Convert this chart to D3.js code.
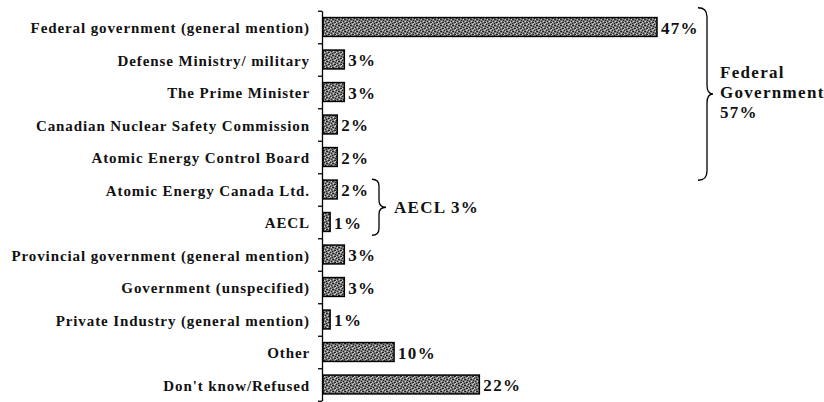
<!DOCTYPE html>
<html lang="en">
<head>
<meta charset="UTF-8">
<script src="https://d3js.org/d3.v7.min.js"></script>
<style>
  body { margin: 0; background: #fff; }
  svg text { font-family: "Liberation Serif", "Times New Roman", serif; fill: #111; }
  .label { font-size: 15px; font-weight: bold; letter-spacing: 0.9px; }
  .value { font-size: 17px; font-weight: bold; letter-spacing: 1.3px; }
  .axis path, .axis line { stroke: #000; stroke-width: 1.3; }
</style>
</head>
<body>
<div id="chart"></div>
<script>
var categories = [
  "Federal government (general mention)",
  "Defense Ministry/ military",
  "The Prime Minister",
  "Canadian Nuclear Safety Commission",
  "Atomic Energy Control Board",
  "Atomic Energy Canada Ltd.",
  "AECL",
  "Provincial government (general mention)",
  "Government (unspecified)",
  "Private Industry (general mention)",
  "Other",
  "Don't know/Refused"
];
var values = [47, 3, 3, 2, 2, 2, 1, 3, 3, 1, 10, 22];

// group brackets: first/last category index and the label lines
var groupFederal = { from: 0, to: 4, lines: ["Federal", "Government", "57%"] };
var groupAecl = { from: 5, to: 6, lines: ["AECL 3%"] };

var width = 824, height = 402;
var x0 = 322;

var svg = d3.select("#chart").append("svg")
    .attr("width", width)
    .attr("height", height);

// grey speckled fill like the scanned original
var defs = svg.append("defs");
var pat = defs.append("pattern")
    .attr("id", "speckle")
    .attr("patternUnits", "userSpaceOnUse")
    .attr("width", 6).attr("height", 6);
pat.append("rect").attr("width", 6).attr("height", 6).attr("fill", "#7c7c7c");
[[0,0],[3,1],[1,3],[4,4],[2,5],[5,2],[2,1],[5,4]].forEach(function(p) {
  pat.append("rect").attr("x", p[0]).attr("y", p[1]).attr("width", 1).attr("height", 1).attr("fill", "#222");
});
[[1,1],[4,0],[0,4],[3,3],[5,5]].forEach(function(p) {
  pat.append("rect").attr("x", p[0]).attr("y", p[1]).attr("width", 1).attr("height", 1).attr("fill", "#d4d4d4");
});

var y = d3.scaleBand()
    .domain(categories)
    .range([10.75, 400.75])
    .paddingInner(0.42)
    .paddingOuter(0.21);

var x = d3.scaleLinear()
    .domain([0, 47])
    .range([x0, x0 + 334]);

// axis with ticks between the rows
var edges = d3.scaleLinear().domain([0, categories.length]).range([10.75, 400.75]);
svg.append("g")
    .attr("class", "axis")
    .attr("transform", "translate(" + x0 + ",0)")
    .call(d3.axisLeft(edges).tickValues(d3.range(categories.length + 1)).tickFormat("").tickSize(4).tickSizeOuter(0));

svg.selectAll(".label")
    .data(categories)
  .enter().append("text")
    .attr("class", "label")
    .attr("x", x0 - 12)
    .attr("y", function(d) { return y(d) + y.bandwidth() / 2 + 1; })
    .attr("dy", "0.35em")
    .style("text-anchor", "end")
    .text(function(d) { return d; });

svg.selectAll(".bar")
    .data(values)
  .enter().append("rect")
    .attr("class", "bar")
    .attr("x", x(0) + 1)
    .attr("y", function(d, i) { return y(categories[i]); })
    .attr("width", function(d) { return x(d) - x(0); })
    .attr("height", y.bandwidth())
    .attr("fill", "url(#speckle)")
    .attr("stroke", "#000")
    .attr("stroke-width", 1.5);

svg.selectAll(".value")
    .data(values)
  .enter().append("text")
    .attr("class", "value")
    .attr("x", function(d) { return x(d) + 5; })
    .attr("y", function(d, i) { return y(categories[i]) + y.bandwidth() / 2 + 1; })
    .attr("dy", "0.35em")
    .text(function(d) { return d + "%"; });

function brace(xs, xv, xt, y1, y2) {
  var ym = (y1 + y2) / 2, r = xv - xs;
  return "M" + xs + "," + y1 +
    " Q" + xv + "," + y1 + " " + xv + "," + (y1 + r) +
    " L" + xv + "," + (ym - r) +
    " Q" + xv + "," + ym + " " + xt + "," + ym +
    " Q" + xv + "," + ym + " " + xv + "," + (ym + r) +
    " L" + xv + "," + (y2 - r) +
    " Q" + xv + "," + y2 + " " + xs + "," + y2;
}

// federal government bracket
var fy1 = edges(groupFederal.from) - 3, fy2 = edges(groupFederal.to + 1) + 7;
svg.append("path")
    .attr("d", brace(698, 707, 713, fy1, fy2))
    .attr("fill", "none").attr("stroke", "#000").attr("stroke-width", 1.3);
svg.append("text")
    .attr("class", "value")
    .attr("x", 720)
    .attr("y", 78)
    .selectAll("tspan")
    .data(groupFederal.lines)
  .enter().append("tspan")
    .attr("x", 720)
    .attr("dy", function(d, i) { return i ? 20 : 0; })
    .text(function(d) { return d; });

// AECL bracket
var ay1 = edges(groupAecl.from) + 6, ay2 = edges(groupAecl.to + 1) - 3;
svg.append("path")
    .attr("d", brace(372, 379, 386, ay1, ay2))
    .attr("fill", "none").attr("stroke", "#000").attr("stroke-width", 1.3);
svg.append("text")
    .attr("class", "value")
    .attr("x", 394)
    .attr("y", (ay1 + ay2) / 2)
    .attr("dy", "0.35em")
    .text(groupAecl.lines[0]);
</script>
</body>
</html>
